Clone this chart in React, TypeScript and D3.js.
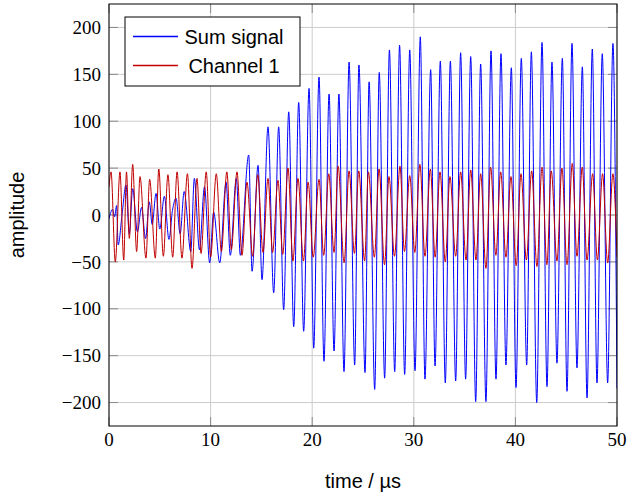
import React from 'react';
import * as d3 from 'd3';

const width = 628;
const height = 494;
const margin = {top: 4, right: 11, bottom: 68, left: 109};
const innerWidth = width - margin.left - margin.right;
const innerHeight = height - margin.top - margin.bottom;

// turning points of the sum signal (time in µs)
const sumTime = [
  0, 0.35, 0.55, 0.75, 0.9, 1.3, 1.67, 2.0, 2.33, 2.8, 3.2, 3.6, 3.97, 4.25, 4.63, 5.0, 5.45, 5.9, 6.25, 6.6, 7.0, 7.4, 8.05, 8.4, 8.9, 9.4, 9.91,
  10.3, 10.9, 11.52, 11.94, 12.53, 12.93, 13.75, 14.08, 14.67, 15.06, 15.65, 16.21, 16.7, 17.19, 17.69, 18.18, 18.67, 19.16, 19.69, 20.15,
  20.67, 21.16, 21.66, 22.15, 22.63, 23.13, 23.63, 24.18, 24.6, 25.2, 25.6, 26.15, 26.6, 27.13, 27.6, 28.12, 28.6, 29.1, 29.6, 30.12,
  30.64, 31.1, 31.66, 32.09, 32.61, 33.1, 33.6, 34.12, 34.61, 35.1, 35.6, 36.09, 36.58, 37.1, 37.6, 38.09, 38.58, 39.07, 39.6, 40.06,
  40.58, 41.11, 41.57, 42.1, 42.62, 43.11, 43.6, 44.09, 44.62, 45.08, 45.57, 46.06, 46.59, 47.05, 47.57, 48.03, 48.55, 49.08, 49.6, 50,
];
const sumValue = [
  -4, 6, -2, 10, -32, 2, 32, -20, 28, -18, 8, -25, 14, -10, 23, -15, 20, -26, 5, 18, -20, 25, -39, 39, -37, 30, -51,
  3, -51, 35, -43, 39, -43, 64, -60, 53, -69, 94, -83, 94, -101, 110, -119, 120, -124, 135, -142,
  147, -156, 129, -145, 129, -167, 163, -160, 160, -168, 142, -186, 152, -174, 176, -167, 181, -170, 176, -166,
  190, -175, 155, -161, 164, -179, 164, -177, 173, -175, 169, -199, 161, -199, 175, -175, 172, -160, 157, -184,
  167, -160, 174, -200, 184, -183, 163, -158, 167, -188, 183, -163, 158, -195, 177, -179, 172, -179, 183, -185,
];

// turning points of channel 1
const ch1Time = [
  0, 0.2, 0.62, 1.08, 1.45, 1.72, 2.0, 2.33, 2.72, 3.05, 3.64, 4.0, 4.56, 4.9, 5.35, 5.8, 6.27, 6.7, 7.18, 7.72, 8.17, 8.66, 9.06, 9.57, 10.0,
  10.56, 11.06, 11.6, 12.04, 12.6, 13.09, 13.58, 14.14, 14.64, 15.16, 15.65, 16.1, 16.63, 17.1, 17.62, 18.1, 18.6, 19.14, 19.6, 20.1,
  20.67, 21.13, 21.63, 22.15, 22.55, 23.14, 23.63, 24.16, 24.58, 25.16, 25.53, 26.12, 26.58, 27.12, 27.56, 28.1, 28.64, 29.08, 29.6, 30.1,
  30.6, 31.1, 31.63, 32.1, 32.58, 33.1, 33.56, 34.12, 34.61, 35.14, 35.6, 36.12, 36.58, 37.1, 37.56, 38.08, 38.55, 39.07, 39.56, 40.08,
  40.55, 41.08, 41.6, 42.12, 42.62, 43.1, 43.53, 44.09, 44.58, 45.08, 45.6, 46.06, 46.58, 47.05, 47.6, 48.07, 48.58, 49.08, 49.6, 50,
];
const ch1Value = [
  30, 46, -50, 46, -48, 46, -25, 54, -39, 41, -46, 38, -46, 49, -44, 43, -45, 46, -46, 44, -57, 39, -41, 46, -45,
  44, -39, 46, -37, 46, -43, 35, -44, 43, -40, 39, -40, 37, -42, 50, -49, 39, -49, 35, -45,
  38, -43, 44, -40, 52, -51, 47, -41, 47, -49, 46, -45, 49, -53, 41, -44, 52, -39, 42, -40,
  54, -44, 49, -45, 46, -50, 41, -44, 46, -48, 48, -48, 44, -57, 51, -43, 46, -45, 41, -54,
  44, -48, 47, -55, 51, -53, 47, -49, 50, -53, 55, -44, 51, -48, 44, -48, 44, -51, 44, -45,
];

const xTicks = [0, 10, 20, 30, 40, 50];
const yTicks = [-200, -150, -100, -50, 0, 50, 100, 150, 200];

const seriesNames = ['Sum signal', 'Channel 1'];
const seriesColors = ['#0000ff', '#c00000'];

const serif = '"Liberation Serif", "DejaVu Serif", serif';
const sans = '"Liberation Sans", Arial, sans-serif';

export default function App() {
  const x = d3.scaleLinear().domain([0, 50]).range([0, innerWidth]);
  const y = d3.scaleLinear().domain([-225, 225]).range([innerHeight, 0]);
  const fmt = d3.format('d');

  const line = d3.line<[number, number]>()
    .x((d) => x(d[0]))
    .y((d) => y(d[1]))
    .curve(d3.curveMonotoneX);

  const sumData = sumTime.map((t, i) => [t, sumValue[i]] as [number, number]);
  const ch1Data = ch1Time.map((t, i) => [t, ch1Value[i]] as [number, number]);
  const paths = [line(sumData), line(ch1Data)];

  const tickLen = 9;

  return (
    <svg width={width} height={height} style={{position: 'absolute', left: 0, top: 0, display: 'block'}}>
      <rect width={width} height={height} fill="white" />
      <g transform={`translate(${margin.left},${margin.top})`}>
        <defs>
          <clipPath id="plot-clip">
            <rect width={innerWidth} height={innerHeight} />
          </clipPath>
        </defs>
        {xTicks.map((t) => (
          <line key={`gx${t}`} x1={x(t)} x2={x(t)} y1={0} y2={innerHeight} stroke="#cccccc" />
        ))}
        {yTicks.map((t) => (
          <line key={`gy${t}`} x1={0} x2={innerWidth} y1={y(t)} y2={y(t)} stroke="#cccccc" />
        ))}
        {xTicks.map((t) => (
          <g key={`tx${t}`} stroke="#8a8a8a">
            <line x1={x(t)} x2={x(t)} y1={innerHeight} y2={innerHeight - tickLen} />
            <line x1={x(t)} x2={x(t)} y1={0} y2={tickLen} />
          </g>
        ))}
        {yTicks.map((t) => (
          <g key={`ty${t}`} stroke="#8a8a8a">
            <line x1={0} x2={tickLen} y1={y(t)} y2={y(t)} />
            <line x1={innerWidth} x2={innerWidth - tickLen} y1={y(t)} y2={y(t)} />
          </g>
        ))}
        <g clipPath="url(#plot-clip)">
          {paths.map((p, i) => (
            <path key={seriesNames[i]} d={p ?? ''} fill="none" stroke={seriesColors[i]} strokeWidth={1} strokeLinejoin="round" />
          ))}
        </g>
        <rect width={innerWidth} height={innerHeight} fill="none" stroke="black" strokeWidth={1} />
        {xTicks.map((t) => (
          <text key={`lx${t}`} x={x(t)} y={innerHeight + 20} textAnchor="middle" fontFamily={serif} fontSize={19}>
            {fmt(t)}
          </text>
        ))}
        {yTicks.map((t) => (
          <text key={`ly${t}`} x={-8} y={y(t)} dy="0.35em" textAnchor="end" fontFamily={serif} fontSize={19}>
            {fmt(t)}
          </text>
        ))}
        <g transform="translate(16,13)">
          <rect width={175} height={69} fill="white" stroke="black" strokeWidth={1} />
          {seriesNames.map((name, i) => (
            <g key={name} transform={`translate(0,${19.5 + i * 29})`}>
              <line x1={8} x2={53} y1={0} y2={0} stroke={seriesColors[i]} strokeWidth={1.3} />
              <text x={109} y={0} dy="0.35em" textAnchor="middle" fontFamily={sans} fontSize={20}>
                {name}
              </text>
            </g>
          ))}
        </g>
      </g>
      <text
        transform={`translate(24,${margin.top + innerHeight / 2}) rotate(-90)`}
        textAnchor="middle"
        fontFamily={sans}
        fontSize={20}
      >
        amplitude
      </text>
      <text x={margin.left + innerWidth / 2} y={488} textAnchor="middle" fontFamily={sans} fontSize={20}>
        time / µs
      </text>
    </svg>
  );
}
